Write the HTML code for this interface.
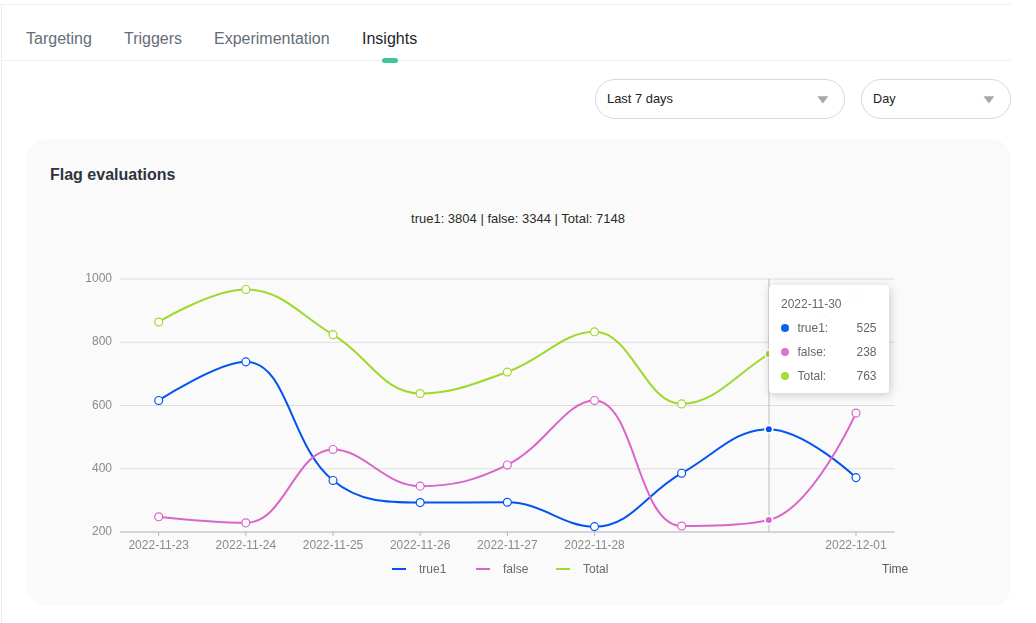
<!DOCTYPE html>
<html><head><meta charset="utf-8">
<style>
html,body{margin:0;padding:0;width:1036px;height:623px;overflow:hidden;background:#fff;}
body{position:relative;font-family:"Liberation Sans",sans-serif;}
svg{position:absolute;left:0;top:0;}
.tip{will-change:transform;position:absolute;left:769px;top:285px;width:120px;height:108px;box-sizing:border-box;background:rgba(255,255,255,0.95);border-radius:4px;box-shadow:1px 2px 10px rgba(0,0,0,0.2);}
</style></head><body>
<svg width="1036" height="623" viewBox="0 0 1036 623" font-family="Liberation Sans, sans-serif">
<rect x="0" y="4" width="1011" height="1" fill="#eff0f5"/>
<rect x="1" y="5" width="1" height="618" fill="#ecedf4"/>
<rect x="2" y="60" width="1009" height="1" fill="#eeeff3"/>
<g font-size="16" fill="#646d79">
<text x="26" y="44">Targeting</text>
<text x="124" y="44">Triggers</text>
<text x="214" y="44">Experimentation</text>
<text x="362" y="44" fill="#1d1f2b">Insights</text>
</g>
<rect x="382" y="58" width="16" height="5" rx="2.5" fill="#3ec795"/>
<rect x="595.5" y="79.5" width="249" height="39" rx="19.5" fill="#fff" stroke="#d9d9d9"/>
<rect x="861.5" y="79.5" width="149" height="39" rx="19.5" fill="#fff" stroke="#d9d9d9"/>
<g font-size="13.6" fill="#222">
<text x="607" y="103" textLength="66" lengthAdjust="spacingAndGlyphs">Last 7 days</text>
<text x="873" y="103" textLength="22.5" lengthAdjust="spacingAndGlyphs">Day</text>
</g>
<path d="M817.3 96.3 L828.3 96.3 L822.8 103.6 Z" fill="#a3a9b1"/>
<path d="M983.4 96.3 L994.4 96.3 L988.9 103.6 Z" fill="#a3a9b1"/>
<rect x="26" y="139" width="985" height="467" rx="20" fill="#fafafa"/>
<text x="50" y="179.5" font-size="16" font-weight="bold" fill="#30333d">Flag evaluations</text>
<text x="518" y="223" font-size="13" text-anchor="middle" fill="#2b2b2b">true1: 3804 | false: 3344 | Total: 7148</text>
</svg>
<svg width="1036" height="623" viewBox="0 0 1036 623" font-family="Liberation Sans, sans-serif" style="will-change:transform">
<line x1="120" y1="279.00" x2="894.5" y2="279.00" stroke="#dcdcdc" stroke-width="1"/>
<line x1="120" y1="342.25" x2="894.5" y2="342.25" stroke="#dcdcdc" stroke-width="1"/>
<line x1="120" y1="405.50" x2="894.5" y2="405.50" stroke="#dcdcdc" stroke-width="1"/>
<line x1="120" y1="468.75" x2="894.5" y2="468.75" stroke="#dcdcdc" stroke-width="1"/>

<line x1="120" y1="532" x2="894.5" y2="532" stroke="#b0b0b0" stroke-width="1"/>
<line x1="158.70" y1="532" x2="158.70" y2="536" stroke="#b8b8b8" stroke-width="1"/>
<line x1="245.86" y1="532" x2="245.86" y2="536" stroke="#b8b8b8" stroke-width="1"/>
<line x1="333.02" y1="532" x2="333.02" y2="536" stroke="#b8b8b8" stroke-width="1"/>
<line x1="420.18" y1="532" x2="420.18" y2="536" stroke="#b8b8b8" stroke-width="1"/>
<line x1="507.34" y1="532" x2="507.34" y2="536" stroke="#b8b8b8" stroke-width="1"/>
<line x1="594.50" y1="532" x2="594.50" y2="536" stroke="#b8b8b8" stroke-width="1"/>
<line x1="855.98" y1="532" x2="855.98" y2="536" stroke="#b8b8b8" stroke-width="1"/>

<g font-size="12" fill="#8a8a8a">
<text x="112" y="282.00" text-anchor="end">1000</text>
<text x="112" y="345.25" text-anchor="end">800</text>
<text x="112" y="408.50" text-anchor="end">600</text>
<text x="112" y="471.75" text-anchor="end">400</text>
<text x="112" y="535.00" text-anchor="end">200</text>

<text x="158.70" y="548.6" text-anchor="middle">2022-11-23</text>
<text x="245.86" y="548.6" text-anchor="middle">2022-11-24</text>
<text x="333.02" y="548.6" text-anchor="middle">2022-11-25</text>
<text x="420.18" y="548.6" text-anchor="middle">2022-11-26</text>
<text x="507.34" y="548.6" text-anchor="middle">2022-11-27</text>
<text x="594.50" y="548.6" text-anchor="middle">2022-11-28</text>
<text x="855.98" y="548.6" text-anchor="middle">2022-12-01</text>

</g>
<text x="882" y="573" font-size="12" fill="#5a5a5a">Time</text>
<line x1="769" y1="279" x2="769" y2="532" stroke="#bdbdbd" stroke-width="1"/>
<path d="M158.70 400.44 C158.70 400.44 218.45 361.86 245.86 361.86 C288.18 361.86 289.74 445.51 333.02 480.45 C359.47 501.80 384.77 502.59 420.18 502.59 C454.50 502.59 473.13 502.27 507.34 502.27 C542.86 502.27 561.76 526.62 594.50 526.62 C631.49 526.62 645.99 493.11 681.66 473.18 C715.72 454.15 734.32 429.22 768.82 429.22 C804.05 429.22 855.98 477.61 855.98 477.61" fill="none" stroke="#0055ee" stroke-width="2" stroke-linejoin="round"/>
<path d="M158.70 516.82 C158.70 516.82 215.60 522.83 245.86 522.83 C285.32 522.83 294.92 449.46 333.02 449.46 C364.65 449.46 384.40 486.14 420.18 486.14 C454.12 486.14 475.77 480.47 507.34 464.95 C545.50 446.19 565.56 400.44 594.50 400.44 C635.29 400.44 637.29 525.99 681.66 525.99 C707.02 525.99 741.78 525.99 768.82 519.98 C811.51 510.50 855.98 413.09 855.98 413.09" fill="none" stroke="#d865cb" stroke-width="2" stroke-linejoin="round"/>
<path d="M158.70 322.01 C158.70 322.01 211.93 289.44 245.86 289.44 C281.66 289.44 299.35 314.56 333.02 334.66 C369.08 356.18 382.57 393.48 420.18 393.48 C452.29 393.48 473.64 383.90 507.34 371.98 C543.37 359.23 562.50 331.81 594.50 331.81 C632.22 331.81 644.73 403.92 681.66 403.92 C714.46 403.92 734.72 375.17 768.82 353.95 C804.45 331.78 855.98 295.45 855.98 295.45" fill="none" stroke="#9ed92e" stroke-width="2" stroke-linejoin="round"/>

<circle cx="158.70" cy="400.44" r="3.95" fill="#fff" stroke="#0055ee" stroke-width="1.2"/>
<circle cx="245.86" cy="361.86" r="3.95" fill="#fff" stroke="#0055ee" stroke-width="1.2"/>
<circle cx="333.02" cy="480.45" r="3.95" fill="#fff" stroke="#0055ee" stroke-width="1.2"/>
<circle cx="420.18" cy="502.59" r="3.95" fill="#fff" stroke="#0055ee" stroke-width="1.2"/>
<circle cx="507.34" cy="502.27" r="3.95" fill="#fff" stroke="#0055ee" stroke-width="1.2"/>
<circle cx="594.50" cy="526.62" r="3.95" fill="#fff" stroke="#0055ee" stroke-width="1.2"/>
<circle cx="681.66" cy="473.18" r="3.95" fill="#fff" stroke="#0055ee" stroke-width="1.2"/>
<circle cx="768.82" cy="429.22" r="3.8" fill="#0055ee" stroke="#fff" stroke-width="1.6"/>
<circle cx="855.98" cy="477.61" r="3.95" fill="#fff" stroke="#0055ee" stroke-width="1.2"/>
<circle cx="158.70" cy="516.82" r="3.95" fill="#fff" stroke="#d865cb" stroke-width="1.2"/>
<circle cx="245.86" cy="522.83" r="3.95" fill="#fff" stroke="#d865cb" stroke-width="1.2"/>
<circle cx="333.02" cy="449.46" r="3.95" fill="#fff" stroke="#d865cb" stroke-width="1.2"/>
<circle cx="420.18" cy="486.14" r="3.95" fill="#fff" stroke="#d865cb" stroke-width="1.2"/>
<circle cx="507.34" cy="464.95" r="3.95" fill="#fff" stroke="#d865cb" stroke-width="1.2"/>
<circle cx="594.50" cy="400.44" r="3.95" fill="#fff" stroke="#d865cb" stroke-width="1.2"/>
<circle cx="681.66" cy="525.99" r="3.95" fill="#fff" stroke="#d865cb" stroke-width="1.2"/>
<circle cx="768.82" cy="519.98" r="3.8" fill="#d865cb" stroke="#fff" stroke-width="1.6"/>
<circle cx="855.98" cy="413.09" r="3.95" fill="#fff" stroke="#d865cb" stroke-width="1.2"/>
<circle cx="158.70" cy="322.01" r="3.95" fill="#fff" stroke="#9ed92e" stroke-width="1.2"/>
<circle cx="245.86" cy="289.44" r="3.95" fill="#fff" stroke="#9ed92e" stroke-width="1.2"/>
<circle cx="333.02" cy="334.66" r="3.95" fill="#fff" stroke="#9ed92e" stroke-width="1.2"/>
<circle cx="420.18" cy="393.48" r="3.95" fill="#fff" stroke="#9ed92e" stroke-width="1.2"/>
<circle cx="507.34" cy="371.98" r="3.95" fill="#fff" stroke="#9ed92e" stroke-width="1.2"/>
<circle cx="594.50" cy="331.81" r="3.95" fill="#fff" stroke="#9ed92e" stroke-width="1.2"/>
<circle cx="681.66" cy="403.92" r="3.95" fill="#fff" stroke="#9ed92e" stroke-width="1.2"/>
<circle cx="768.82" cy="353.95" r="3.8" fill="#9ed92e" stroke="#fff" stroke-width="1.6"/>
<circle cx="855.98" cy="295.45" r="3.95" fill="#fff" stroke="#9ed92e" stroke-width="1.2"/>

<g font-size="12" fill="#6a6a6a">
<rect x="392" y="568" width="14" height="2" fill="#0055ee"/>
<text x="419" y="572.5">true1</text>
<rect x="476" y="568" width="14" height="2" fill="#d865cb"/>
<text x="503" y="572.5">false</text>
<rect x="556" y="568" width="14" height="2" fill="#9ed92e"/>
<text x="583" y="572.5">Total</text>
</g>
</svg>
<div class="tip"></div>
<svg width="1036" height="623" viewBox="0 0 1036 623" font-family="Liberation Sans, sans-serif" style="will-change:transform">
<g font-size="12" fill="#666">
<text x="781" y="308">2022-11-30</text>
<circle cx="785" cy="328" r="4" fill="#0d62f2"/>
<text x="797.5" y="332">true1:</text>
<text x="876.5" y="332" text-anchor="end">525</text>
<circle cx="785" cy="352" r="4" fill="#dc72d2"/>
<text x="797.5" y="356">false:</text>
<text x="876.5" y="356" text-anchor="end">238</text>
<circle cx="785" cy="376" r="4" fill="#a6de36"/>
<text x="797.5" y="380">Total:</text>
<text x="876.5" y="380" text-anchor="end">763</text>
</g>
</svg>
</body></html>
